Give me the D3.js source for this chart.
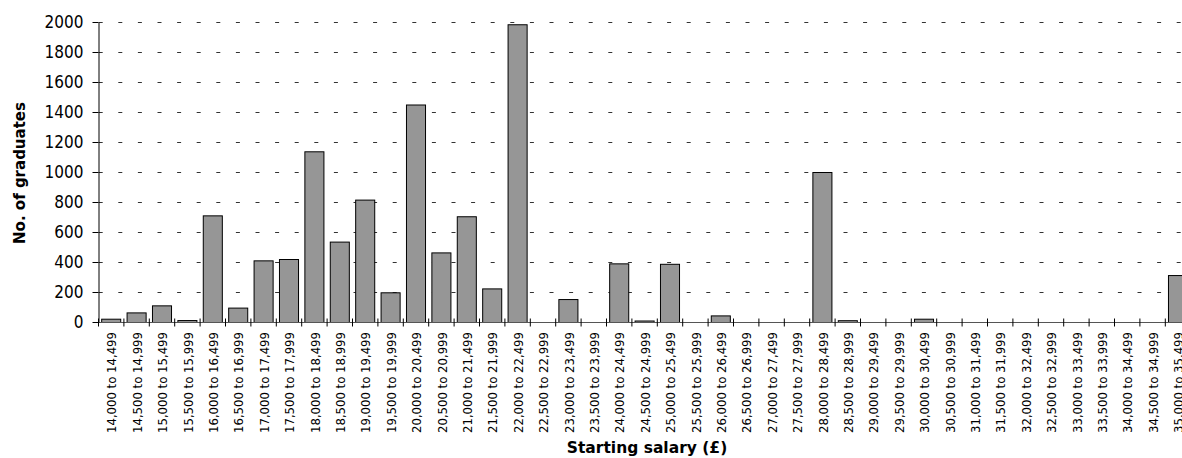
<!DOCTYPE html>
<html>
<head>
<meta charset="utf-8">
<script src="https://cdn.jsdelivr.net/npm/d3@7"></script>
<style>
  html, body { margin: 0; padding: 0; background: #fff; }
  svg { display: block; }
  .tick-label { font-family: "DejaVu Sans Condensed", "DejaVu Sans", sans-serif; font-stretch: condensed; fill: #000; }
  .title { font-family: "DejaVu Sans", sans-serif; font-weight: bold; fill: #000; }
</style>
</head>
<body>
<svg id="chart" width="1182" height="458"></svg>
<script>
// Salary bands (£)
const categories = [
  "14,000 to 14,499", "14,500 to 14,999", "15,000 to 15,499", "15,500 to 15,999",
  "16,000 to 16,499", "16,500 to 16,999", "17,000 to 17,499", "17,500 to 17,999",
  "18,000 to 18,499", "18,500 to 18,999", "19,000 to 19,499", "19,500 to 19,999",
  "20,000 to 20,499", "20,500 to 20,999", "21,000 to 21,499", "21,500 to 21,999",
  "22,000 to 22,499", "22,500 to 22,999", "23,000 to 23,499", "23,500 to 23,999",
  "24,000 to 24,499", "24,500 to 24,999", "25,000 to 25,499", "25,500 to 25,999",
  "26,000 to 26,499", "26,500 to 26,999", "27,000 to 27,499", "27,500 to 27,999",
  "28,000 to 28,499", "28,500 to 28,999", "29,000 to 29,499", "29,500 to 29,999",
  "30,000 to 30,499", "30,500 to 30,999", "31,000 to 31,499", "31,500 to 31,999",
  "32,000 to 32,499", "32,500 to 32,999", "33,000 to 33,499", "33,500 to 33,999",
  "34,000 to 34,499", "34,500 to 34,999", "35,000 to 35,499"
];

// Number of graduates in each band
const graduates = [
  22, 64, 111, 13,
  711, 96, 411, 420,
  1138, 536, 816, 198,
  1450, 464, 705, 224,
  1985, 0, 153, 0,
  391, 10, 388, 0,
  44, 0, 0, 0,
  1000, 12, 0, 0,
  22, 0, 0, 0,
  0, 0, 0, 0,
  0, 0, 313
];

const yTicks = [0, 200, 400, 600, 800, 1000, 1200, 1400, 1600, 1800, 2000];

const xTitle = "Starting salary (£)";
const yTitle = "No. of graduates";

const svg = d3.select("#chart");

const plotLeft = 98, plotTop = 22, plotBottom = 322;
const step = 25.4;
const plotRight = plotLeft + step * categories.length;

const x = d3.scaleBand()
  .domain(categories)
  .range([plotLeft, plotRight])
  .paddingInner(0.25)
  .paddingOuter(0.125);

const y = d3.scaleLinear()
  .domain([0, 2000])
  .range([plotBottom, plotTop]);

// Dashed horizontal gridlines
svg.append("g")
  .selectAll("line")
  .data(yTicks.filter(d => d > 0))
  .join("line")
  .attr("x1", plotLeft + 0.7)
  .attr("x2", plotRight)
  .attr("y1", d => Math.round(y(d)) + 0.5)
  .attr("y2", d => Math.round(y(d)) + 0.5)
  .attr("stroke", "#333")
  .attr("stroke-width", 1)
  .attr("stroke-dasharray", "4,15.6");

// Bars
svg.append("g")
  .selectAll("rect")
  .data(categories.map((c, i) => ({ c, v: graduates[i] })).filter(d => d.v > 0))
  .join("rect")
  .attr("x", d => x(d.c) + 0.5)
  .attr("y", d => y(d.v) + 0.5)
  .attr("width", x.bandwidth())
  .attr("height", d => Math.max(0, y(0) - y(d.v)))
  .attr("fill", "#969696")
  .attr("stroke", "#000")
  .attr("stroke-width", 1);

// X axis: ticks at band boundaries, crossing the axis line
const xb = d3.scaleLinear().domain([0, categories.length]).range([plotLeft, plotRight]);
const xAxis = svg.append("g")
  .attr("transform", `translate(0,${plotBottom + 0.5})`)
  .call(d3.axisBottom(xb)
    .tickValues(d3.range(0, categories.length + 1))
    .tickFormat("")
    .tickSizeOuter(0));
xAxis.select(".domain").attr("stroke", "#555").attr("d", `M${plotLeft},0H${plotRight}`);
xAxis.selectAll(".tick line").attr("y1", -4).attr("y2", 4).attr("stroke", "#000");

// Category labels, rotated
svg.append("g")
  .selectAll("text")
  .data(categories)
  .join("text")
  .attr("class", "tick-label")
  .attr("transform", d => `translate(${x(d) + x.bandwidth() / 2 + 1},${plotBottom + 10}) rotate(-90)`)
  .attr("text-anchor", "end")
  .attr("dy", "0.36em")
  .style("font-size", "13px")
  .text(d => d);

// Y axis
const yAxis = svg.append("g")
  .attr("transform", `translate(${plotLeft + 0.5},0)`)
  .call(d3.axisLeft(y)
    .tickValues(yTicks)
    .tickSizeInner(6)
    .tickSizeOuter(0)
    .tickPadding(9)
    .tickFormat(d3.format("d")));
yAxis.select(".domain").attr("stroke", "#000");
yAxis.selectAll(".tick line").attr("stroke", "#000");
yAxis.selectAll(".tick text")
  .attr("class", "tick-label")
  .attr("font-family", null)
  .style("font-size", "17px");
yAxis.attr("font-family", null).attr("font-size", null);
xAxis.attr("font-family", null).attr("font-size", null);

// Axis titles
svg.append("text")
  .attr("class", "title")
  .attr("x", 647)
  .attr("y", 453)
  .attr("text-anchor", "middle")
  .style("font-size", "15.5px")
  .text(xTitle);

svg.append("text")
  .attr("class", "title")
  .attr("transform", "translate(25,173) rotate(-90)")
  .attr("text-anchor", "middle")
  .style("font-size", "15px")
  .text(yTitle);
</script>
</body>
</html>
